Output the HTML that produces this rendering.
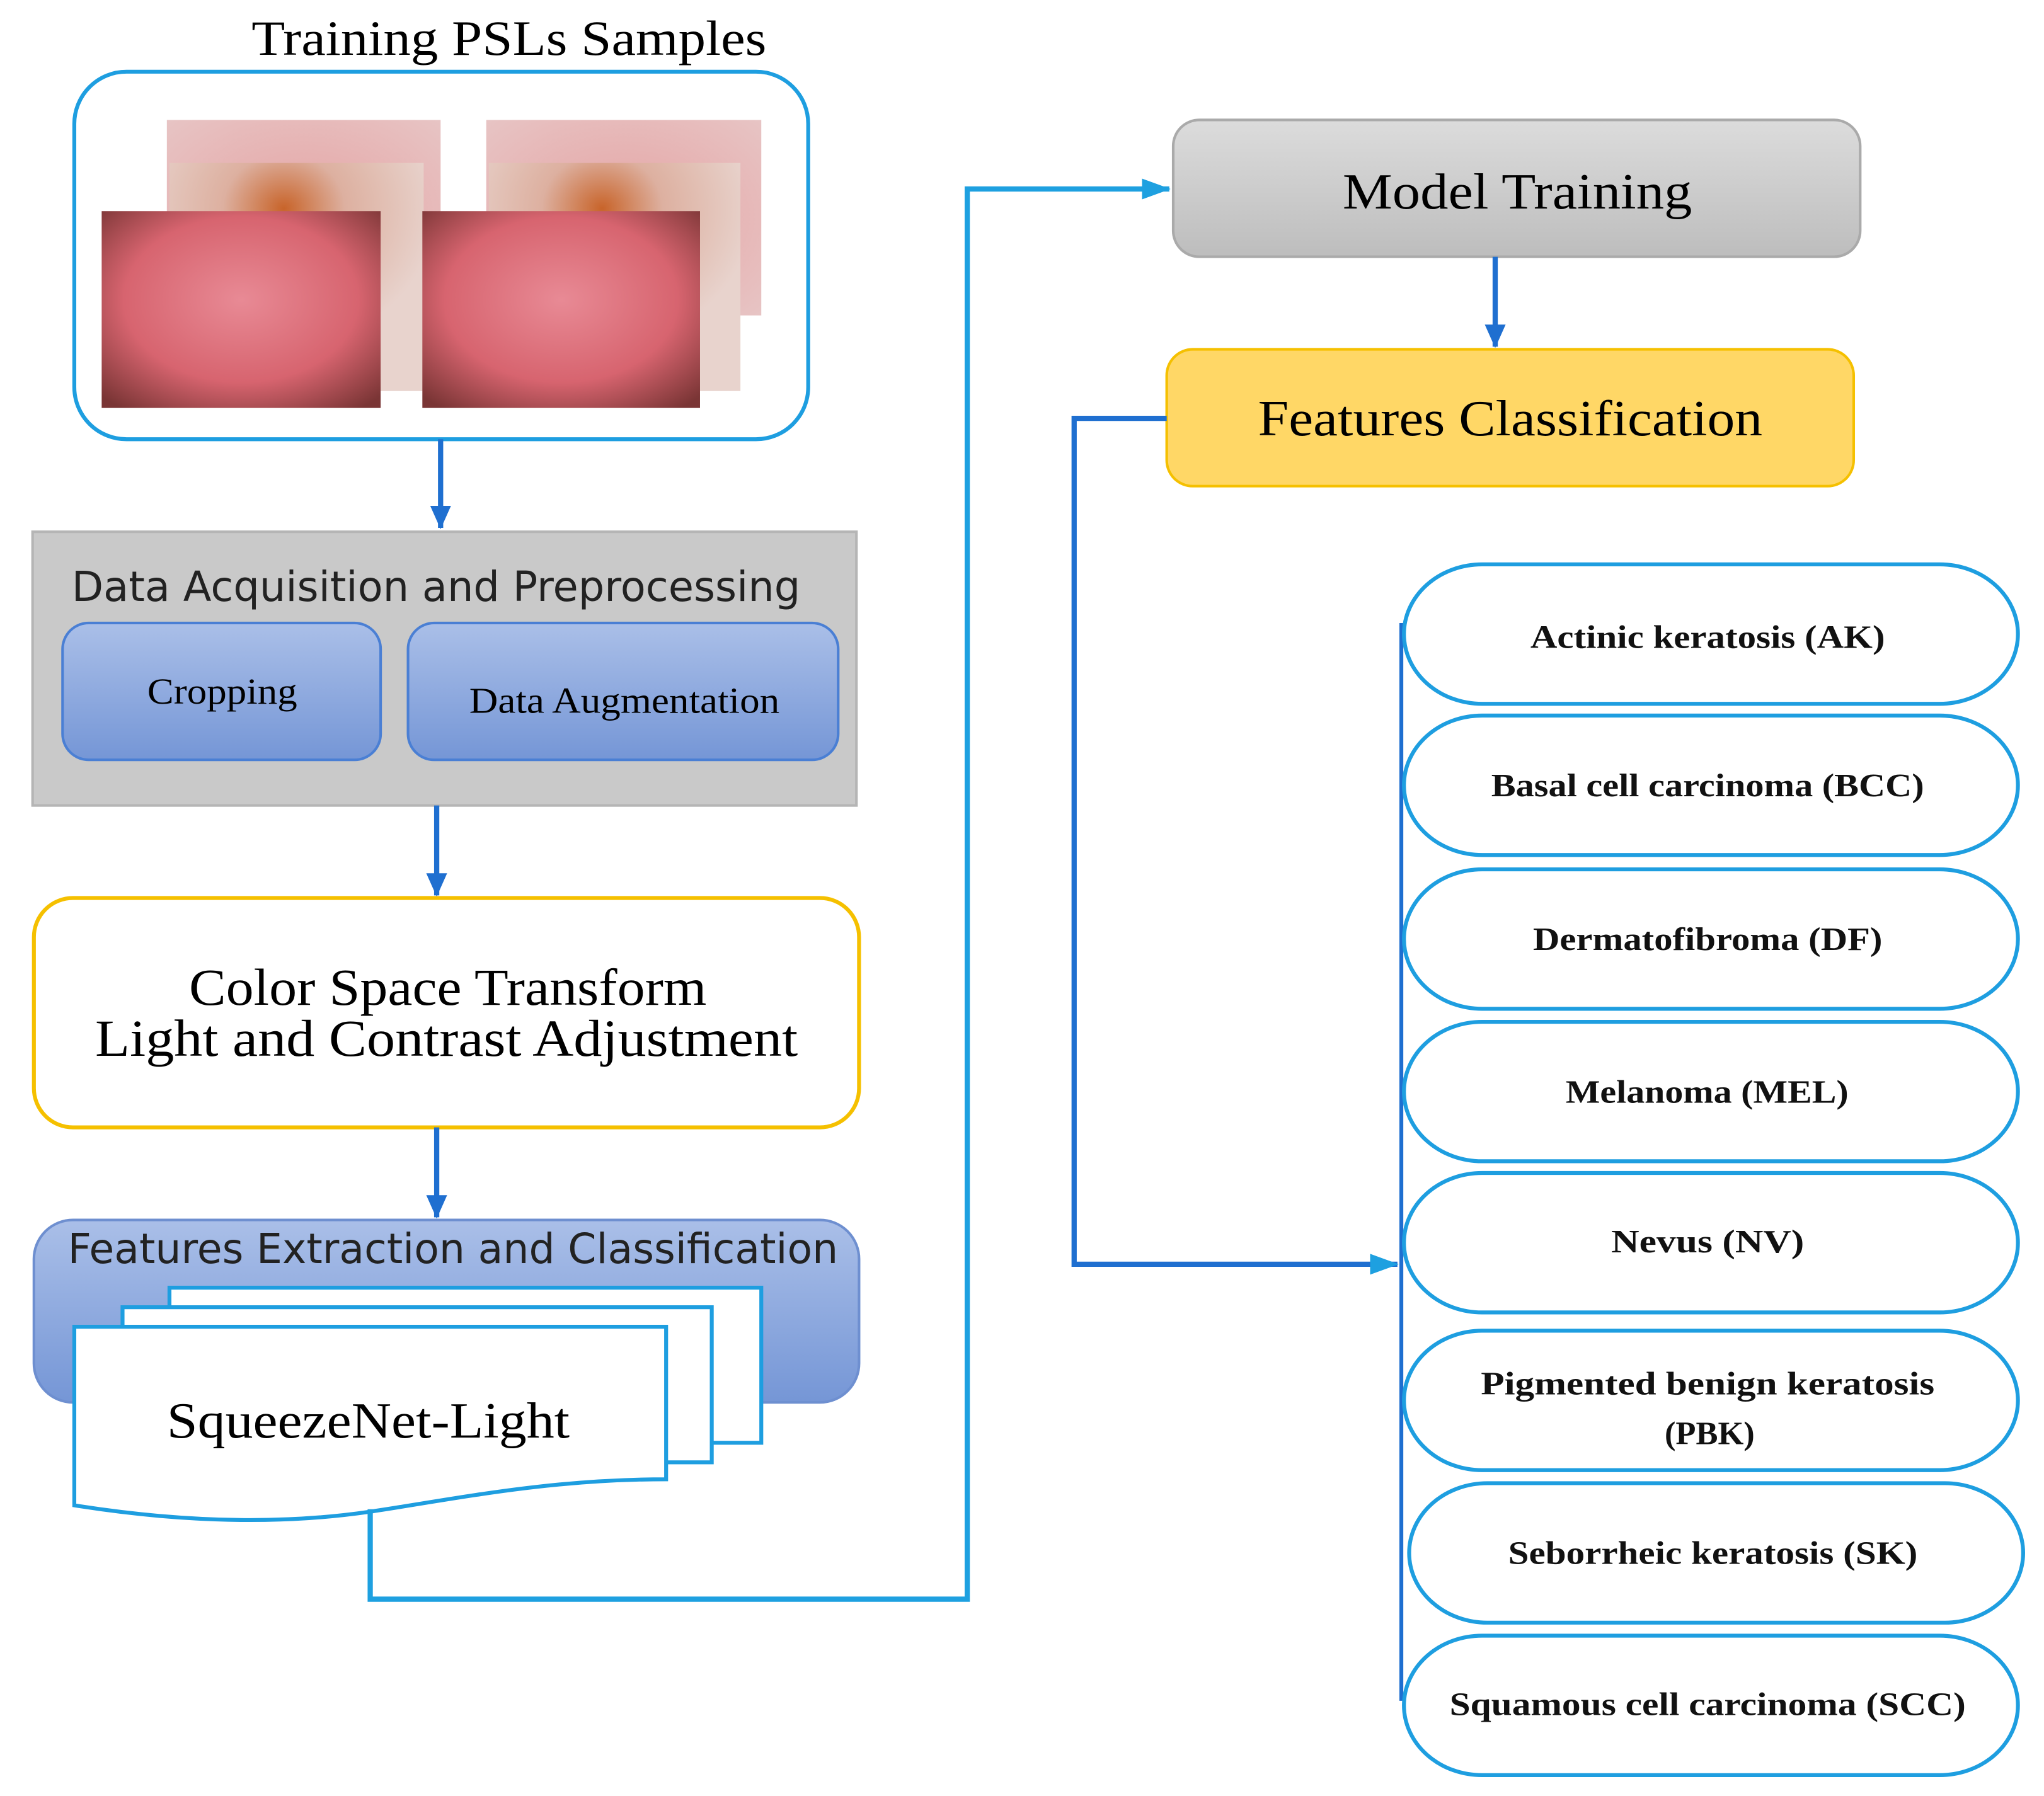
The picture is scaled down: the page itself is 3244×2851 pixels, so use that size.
<!DOCTYPE html>
<html><head><meta charset="utf-8"><style>
html,body{margin:0;padding:0;background:#fff;}
svg{display:block;}
.serif{font-family:"Liberation Serif",serif;}
.sans{font-family:"DejaVu Sans","Liberation Sans",sans-serif;}
</style></head><body>
<svg width="3244" height="2851" viewBox="0 0 1568 1378" xmlns="http://www.w3.org/2000/svg">
<defs>
<radialGradient id="skin" cx="0.5" cy="0.45" r="0.7">
<stop offset="0" stop-color="#e88a95"/><stop offset="0.6" stop-color="#d7646f"/><stop offset="1" stop-color="#7a3535"/>
</radialGradient>
<radialGradient id="skin2" cx="0.5" cy="0.5" r="0.7">
<stop offset="0" stop-color="#e6a3a3"/><stop offset="1" stop-color="#e7c4c4"/>
</radialGradient>
<radialGradient id="skin3" cx="0.45" cy="0.2" r="0.6">
<stop offset="0" stop-color="#c8642a"/><stop offset="0.4" stop-color="#ddb0a0"/><stop offset="1" stop-color="#e8d3cd"/>
</radialGradient>
<linearGradient id="blu" x1="0" y1="0" x2="0" y2="1"><stop offset="0" stop-color="#aabfe8"/><stop offset="1" stop-color="#7596d6"/></linearGradient>
<linearGradient id="gry" x1="0" y1="0" x2="0" y2="1"><stop offset="0" stop-color="#dcdcdc"/><stop offset="1" stop-color="#bdbdbd"/></linearGradient>
<marker id="ah" markerWidth="18" markerHeight="16" refX="17" refY="8" orient="auto" markerUnits="userSpaceOnUse"><path d="M0,0 L18,8 L0,16 z" fill="#1f6fd0"/></marker>
<marker id="ahl" markerWidth="22" markerHeight="16" refX="21" refY="8" orient="auto" markerUnits="userSpaceOnUse"><path d="M0,0 L22,8 L0,16 z" fill="#1ea0e0"/></marker>
</defs>

<text x="193" y="42" textLength="395" lengthAdjust="spacingAndGlyphs" class="serif" font-size="38">Training PSLs Samples</text>
<rect x="57" y="55" width="563" height="282" rx="40" fill="#fff" stroke="#1e9ee0" stroke-width="3"/>
<rect x="128" y="92" width="210" height="150" fill="url(#skin2)"/>
<rect x="130" y="125" width="195" height="175" fill="url(#skin3)"/>
<rect x="78" y="162" width="214" height="151" fill="url(#skin)"/>
<rect x="373" y="92" width="211" height="150" fill="url(#skin2)"/>
<rect x="375" y="125" width="193" height="175" fill="url(#skin3)"/>
<rect x="324" y="162" width="213" height="151" fill="url(#skin)"/>

<line x1="338" y1="337" x2="338" y2="405" stroke="#1f6fd0" stroke-width="4" marker-end="url(#ah)"/>

<rect x="25" y="408" width="632" height="210" fill="#c9c9c9" stroke="#b5b5b5" stroke-width="2"/>
<text x="55" y="461" textLength="559" lengthAdjust="spacingAndGlyphs" class="sans" font-size="32" fill="#222">Data Acquisition and Preprocessing</text>
<rect x="48" y="478" width="244" height="105" rx="20" fill="url(#blu)" stroke="#4a7fd4" stroke-width="2"/>
<text x="113" y="540" textLength="115" lengthAdjust="spacingAndGlyphs" class="serif" font-size="28">Cropping</text>
<rect x="313" y="478" width="330" height="105" rx="20" fill="url(#blu)" stroke="#4a7fd4" stroke-width="2"/>
<text x="360" y="547" textLength="238" lengthAdjust="spacingAndGlyphs" class="serif" font-size="28">Data Augmentation</text>

<line x1="335" y1="618" x2="335" y2="687" stroke="#1f6fd0" stroke-width="4" marker-end="url(#ah)"/>

<rect x="26" y="689" width="633" height="176" rx="30" fill="#fff" stroke="#f5c000" stroke-width="3"/>
<text x="145" y="771" textLength="397" lengthAdjust="spacingAndGlyphs" class="serif" font-size="40">Color Space Transform</text>
<text x="73" y="810" textLength="539" lengthAdjust="spacingAndGlyphs" class="serif" font-size="40">Light and Contrast Adjustment</text>

<line x1="335" y1="865" x2="335" y2="934" stroke="#1f6fd0" stroke-width="4" marker-end="url(#ah)"/>

<rect x="26" y="936" width="633" height="140" rx="30" fill="url(#blu)" stroke="#6e8fd0" stroke-width="2"/>
<text x="52" y="969" textLength="591" lengthAdjust="spacingAndGlyphs" class="sans" font-size="32" fill="#222">Features Extraction and Classification</text>
<rect x="130" y="988" width="454" height="119" fill="#fff" stroke="#1e9ee0" stroke-width="3"/>
<rect x="94" y="1003" width="452" height="119" fill="#fff" stroke="#1e9ee0" stroke-width="3"/>
<path d="M57,1018 H511 V1135 C420,1135 350,1150 283,1160 C200,1172 120,1165 57,1155 Z" fill="#fff" stroke="#1e9ee0" stroke-width="3"/>
<text x="128" y="1103" textLength="309" lengthAdjust="spacingAndGlyphs" class="serif" font-size="39">SqueezeNet-Light</text>

<polyline points="284,1158 284,1227 742,1227 742,145 897,145" fill="none" stroke="#1ea0e0" stroke-width="4" marker-end="url(#ahl)"/>

<rect x="900" y="92" width="527" height="105" rx="20" fill="url(#gry)" stroke="#aaa" stroke-width="2"/>
<text x="1030" y="160" textLength="268" lengthAdjust="spacingAndGlyphs" class="serif" font-size="39">Model Training</text>

<line x1="1147" y1="197" x2="1147" y2="266" stroke="#1f6fd0" stroke-width="4" marker-end="url(#ah)"/>

<rect x="895" y="268" width="527" height="105" rx="20" fill="#ffd766" stroke="#f5c000" stroke-width="2"/>
<text x="965" y="334" textLength="387" lengthAdjust="spacingAndGlyphs" class="serif" font-size="39">Features Classification</text>

<polyline points="895,321 824,321 824,970 1072,970" fill="none" stroke="#1f6fd0" stroke-width="4" marker-end="url(#ahl)"/>
<line x1="1075" y1="478" x2="1075" y2="1305" stroke="#1f6fd0" stroke-width="3"/>

<g fill="#fff" stroke="#1e9ee0" stroke-width="3">
<rect x="1077" y="433" width="471" height="107" rx="60"/>
<rect x="1077" y="549" width="471" height="107" rx="60"/>
<rect x="1077" y="667" width="471" height="107" rx="60"/>
<rect x="1077" y="784" width="471" height="107" rx="60"/>
<rect x="1077" y="900" width="471" height="107" rx="60"/>
<rect x="1077" y="1021" width="471" height="107" rx="60"/>
<rect x="1081" y="1138" width="471" height="107" rx="60"/>
<rect x="1077" y="1255" width="471" height="107" rx="60"/>
</g>
<g class="serif" font-size="25" font-weight="bold" fill="#111" lengthAdjust="spacingAndGlyphs">
<text x="1174" y="497" textLength="272" lengthAdjust="spacingAndGlyphs">Actinic keratosis (AK)</text>
<text x="1144" y="611" textLength="332" lengthAdjust="spacingAndGlyphs">Basal cell carcinoma (BCC)</text>
<text x="1176" y="729" textLength="268" lengthAdjust="spacingAndGlyphs">Dermatofibroma (DF)</text>
<text x="1201" y="846" textLength="217" lengthAdjust="spacingAndGlyphs">Melanoma (MEL)</text>
<text x="1236" y="961" textLength="148" lengthAdjust="spacingAndGlyphs">Nevus (NV)</text>
<text x="1136" y="1070" textLength="348" lengthAdjust="spacingAndGlyphs">Pigmented benign keratosis</text>
<text x="1277" y="1108" textLength="69" lengthAdjust="spacingAndGlyphs">(PBK)</text>
<text x="1157" y="1200" textLength="314" lengthAdjust="spacingAndGlyphs">Seborrheic keratosis (SK)</text>
<text x="1112" y="1316" textLength="396" lengthAdjust="spacingAndGlyphs">Squamous cell carcinoma (SCC)</text>
</g>
</svg>
</body></html>
